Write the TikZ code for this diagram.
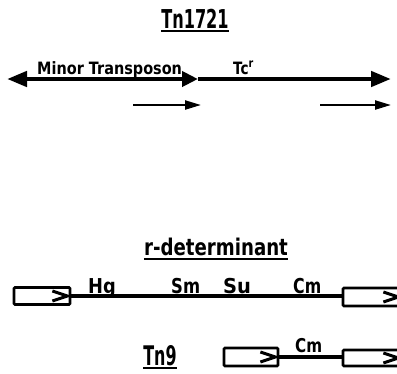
\documentclass[tikz,border=0pt]{standalone}
\usepackage{fontspec}
\setmainfont{DejaVu Sans}
\usetikzlibrary{arrows.meta}
\newcommand{\sqz}[2]{\scalebox{#1}[1]{#2}}
\begin{document}
\begin{tikzpicture}[x=1pt,y=-1pt,
  ttl/.style={font=\bfseries\fontsize{26}{26}\selectfont, inner sep=0, anchor=base},
  lbl/.style={font=\bfseries\fontsize{17}{17}\selectfont, inner sep=0, anchor=base west},
  glbl/.style={font=\bfseries\fontsize{20.5}{20.5}\selectfont, inner sep=0, anchor=base west},
  uline/.style={line width=2.2pt},
  mainline/.style={line width=4.5pt},
  bighead/.style={-{Triangle[length=20pt,width=15pt]}},
  smallarr/.style={line width=2.2pt,-{Triangle[length=16pt,width=9pt]}},
  isbox/.style={draw, line width=2.8pt, inner sep=0, rounded corners=1pt},
  chev/.style={line width=3pt},
  dna/.style={line width=3.5pt}]
\useasboundingbox (0,0) rectangle (397,373);

% Tn1721
\node[ttl] (t1) at (195,28) {\sqz{0.62}{Tn1721}};
\draw[uline] ([yshift=-3pt]t1.base west) -- ([yshift=-3pt]t1.base east);

\coordinate (L) at (7,79);
\coordinate (M) at (198,79);
\coordinate (R) at (391,79);
\draw[mainline, {Triangle[length=20pt,width=15pt]}-{Triangle[length=16pt,width=15pt]}] (L) -- (M);
\draw[mainline, bighead] (M) -- (R);
\node[lbl] (mt) at (37,74) {\sqz{0.85}{Minor Transposon}};
\node[lbl] (tc) at (233,74) {\sqz{0.8}{Tc\textsuperscript{r}}};

\coordinate (a1s) at (133,105);
\coordinate (a1e) at (201,105);
\coordinate (a2s) at (320,105);
\coordinate (a2e) at (391,105);
\draw[smallarr] (a1s) -- (a1e);
\draw[smallarr] (a2s) -- (a2e);

% r-determinant
\node[ttl, font=\bfseries\fontsize{23}{23}\selectfont] (rd) at (216,255) {\sqz{0.79}{r-determinant}};
\draw[uline] ([yshift=-4pt]rd.base west) -- ([yshift=-4pt]rd.base east);

\node[isbox, minimum width=56pt, minimum height=17pt] (b1) at (42,296) {};
\node[isbox, minimum width=58pt, minimum height=18pt] (b2) at (372,297) {};
\draw[dna] (b1.east) -- (b1.east -| b2.west);
\foreach \b in {b1,b2}{
  \draw[chev] ([xshift=-19pt,yshift=-5pt]\b.east) -- ([xshift=-4pt]\b.east) -- ([xshift=-19pt,yshift=5pt]\b.east);
}
\node[glbl] (hg) at (88,293) {\sqz{0.87}{Hg}};
\node[glbl] (sm) at (171,293) {\sqz{0.8}{Sm}};
\node[glbl] (su) at (223,293) {\sqz{0.95}{Su}};
\node[glbl] (cm1) at (293,293) {\sqz{0.77}{Cm}};

% Tn9
\node[ttl, font=\bfseries\fontsize{27}{27}\selectfont] (t9) at (160,365) {\sqz{0.59}{Tn9}};
\draw[uline] ([yshift=-3pt]t9.base west) -- ([yshift=-3pt]t9.base east);

\node[isbox, minimum width=54pt, minimum height=18pt] (b3) at (251,357) {};
\node[isbox, minimum width=58pt, minimum height=16pt] (b4) at (372,358) {};
\draw[dna] (b3.east) -- (b3.east -| b4.west);
\foreach \b in {b3,b4}{
  \draw[chev] ([xshift=-19pt,yshift=-5pt]\b.east) -- ([xshift=-4pt]\b.east) -- ([xshift=-19pt,yshift=5pt]\b.east);
}
\node[glbl, font=\bfseries\fontsize{19}{19}\selectfont] (cm2) at (295,352) {\sqz{0.8}{Cm}};
\end{tikzpicture}
\end{document}
